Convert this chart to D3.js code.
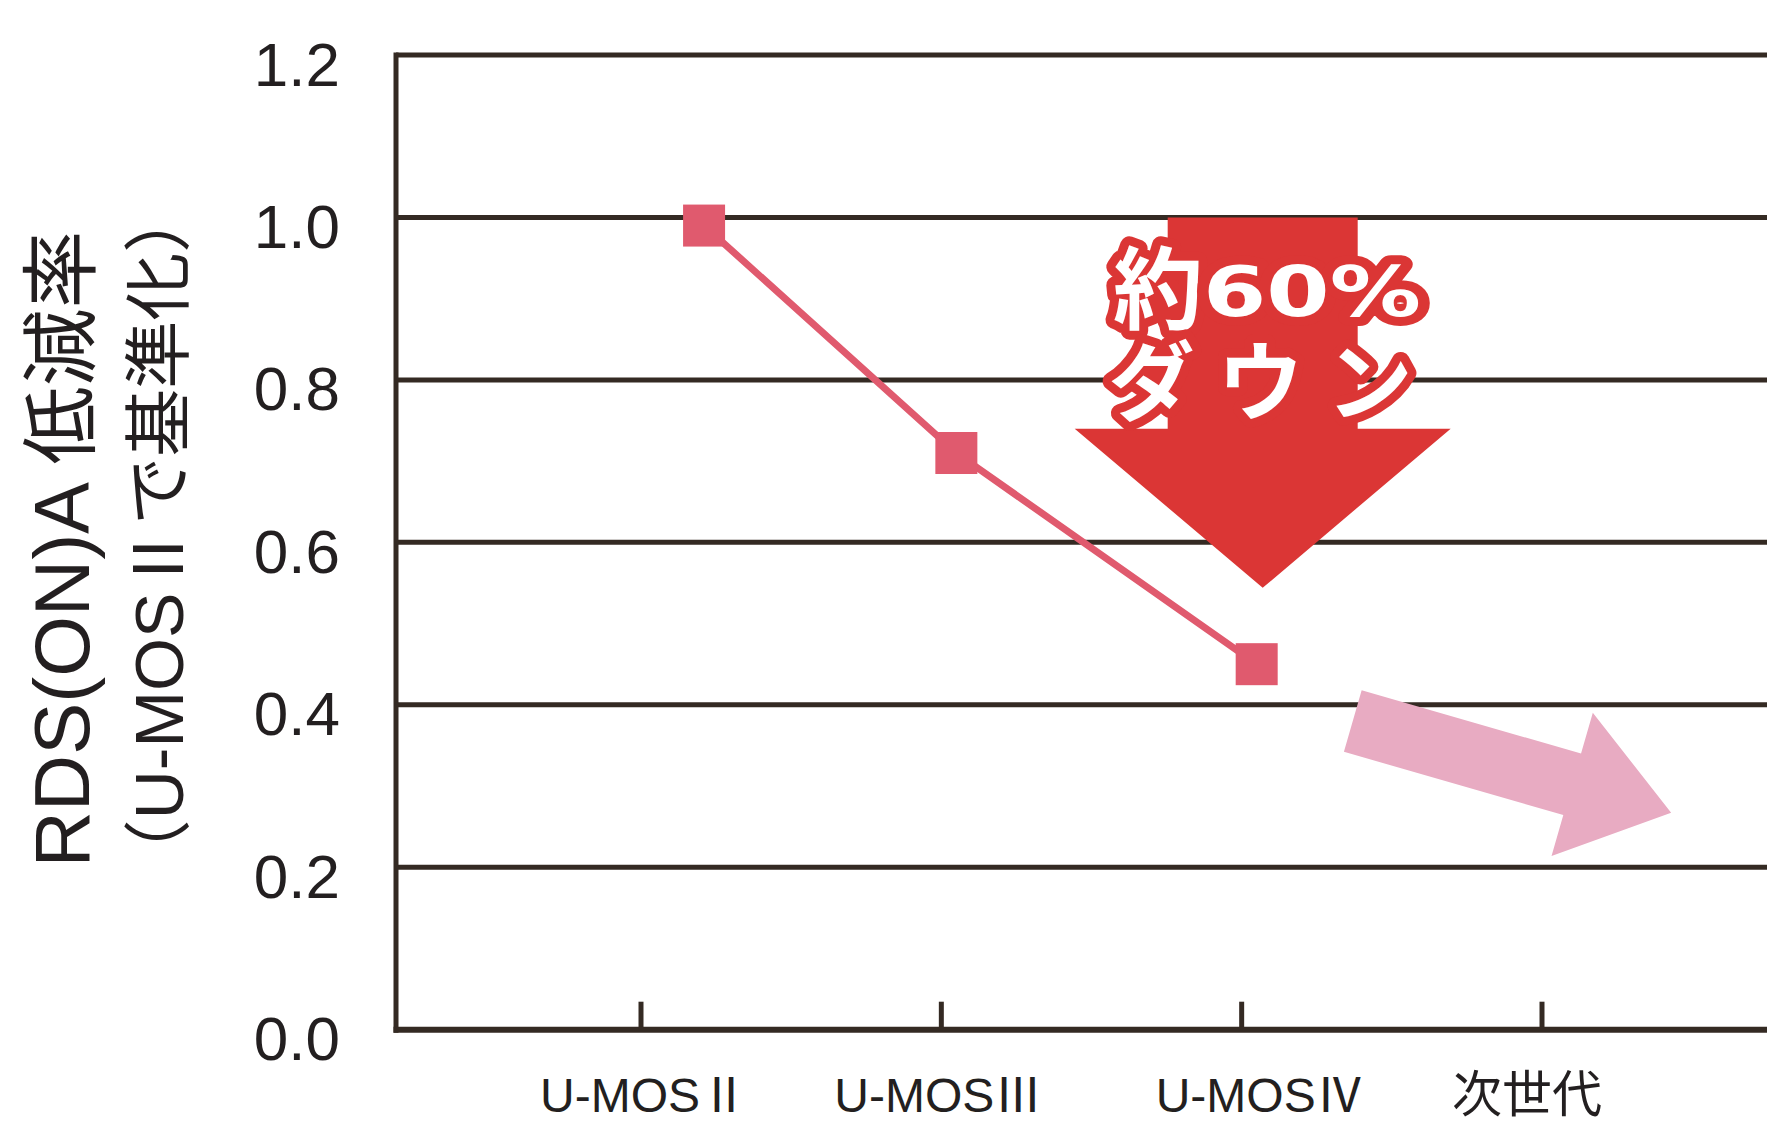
<!DOCTYPE html>
<html>
<head>
<meta charset="utf-8">
<script src="https://cdn.jsdelivr.net/npm/d3@7"></script>
<style>
  html, body { margin: 0; padding: 0; background: #ffffff; }
  svg { display: block; }
</style>
</head>
<body>
<svg id="chart" width="1767" height="1122"></svg>
<script>
// ---- data ----
const categories = ["U-MOSⅡ", "U-MOSⅢ", "U-MOSⅣ", "次世代"];
const seriesValues = [0.99, 0.71, 0.45];
// horizontal position of each plotted point, in category units (as drawn in the source)
const seriesCatPos = [0.21, 1.05, 2.05];
const yTicks = [0.0, 0.2, 0.4, 0.6, 0.8, 1.0, 1.2];
const yTitleLines = ["RDS(ON)A 低減率", "（U-MOSⅡで基準化）"];
const calloutWord = "約";
const calloutPercent = "60%";
const calloutLine2 = "ダウン";
// callout arrow: from value 1.0 down to ~0.54, centred at category position ~2.07
const downArrow = { cat: 2.07, from: 1.0, headBase: 0.74, to: 0.544 };
// trend arrow toward next generation (category position / value of tail and tip)
const trendArrow = { tailCat: 2.37, tailVal: 0.38, tipCat: 3.43, tipVal: 0.267 };

// ---- layout ----
const plotLeft = 396, plotRight = 1767;
const svg = d3.select("#chart");

const x = d3.scaleLinear().domain([0, 3]).range([641, 1542]);
const y = d3.scaleLinear().domain([0, 1.2]).range([1029.7, 55]);

const ink = "#342a23";
const txt = "#231f20";
const latinFont = "'Liberation Sans', Arial, 'Noto Sans CJK JP', sans-serif";
const cjkFont = "'Noto Sans CJK JP', 'Liberation Sans', sans-serif";
const labelNudge = [3, -3, 18, -15];

// gridlines (1.2 .. 0.2)
svg.append("g").selectAll("line")
  .data(yTicks.filter(d => d > 0))
  .join("line")
  .attr("x1", plotLeft).attr("x2", plotRight)
  .attr("y1", d => y(d)).attr("y2", d => y(d))
  .attr("stroke", ink).attr("stroke-width", 5);

// y axis labels
const yAxis = d3.axisLeft(y).tickValues(yTicks).tickSize(0).tickPadding(0)
  .tickFormat(d3.format(".1f"));
const gy = svg.append("g").attr("transform", `translate(${plotLeft - 56},0)`).call(yAxis);
gy.select(".domain").remove();
gy.selectAll("text")
  .attr("font-family", latinFont)
  .attr("font-size", 62)
  .attr("fill", txt)
  .attr("dy", 30)
  .attr("text-anchor", "end");

// left axis line
svg.append("line")
  .attr("x1", plotLeft).attr("x2", plotLeft)
  .attr("y1", y(1.2) - 2.5).attr("y2", y(0) + 3)
  .attr("stroke", ink).attr("stroke-width", 5);

// x ticks (upward)
svg.append("g").selectAll("line")
  .data(categories)
  .join("line")
  .attr("x1", (d, i) => x(i)).attr("x2", (d, i) => x(i))
  .attr("y1", y(0) - 28).attr("y2", y(0))
  .attr("stroke", ink).attr("stroke-width", 5);

// bottom axis line
svg.append("line")
  .attr("x1", plotLeft - 2.5).attr("x2", plotRight)
  .attr("y1", y(0)).attr("y2", y(0))
  .attr("stroke", ink).attr("stroke-width", 6);

// x labels
svg.append("g").selectAll("text")
  .data(categories)
  .join("text")
  .attr("x", (d, i) => x(i) + labelNudge[i])
  .attr("y", 1112)
  .attr("text-anchor", "middle")
  .attr("font-family", latinFont)
  .attr("font-size", (d, i) => i === 3 ? 50 : 48)
  .attr("fill", txt)
  .text(d => d);

// y title (rotated)
const titleX = [89, 183];
const titleY = [549, 536];
const titleSize = [78, 68];
yTitleLines.forEach((t, i) => {
  svg.append("text")
    .attr("transform", `translate(${titleX[i]},${titleY[i]}) rotate(-90)`)
    .attr("text-anchor", "middle")
    .attr("font-family", latinFont)
    .attr("font-size", titleSize[i])
    .attr("fill", txt)
    .text(t);
});

// red down arrow
{
  const cx = x(downArrow.cat);
  const top = y(downArrow.from), base = y(downArrow.headBase), tip = y(downArrow.to);
  const shaftHalf = 95, headHalf = 188;
  const pts = [
    [cx - shaftHalf, top], [cx + shaftHalf, top], [cx + shaftHalf, base],
    [cx + headHalf, base], [cx, tip], [cx - headHalf, base], [cx - shaftHalf, base]
  ];
  svg.append("path").attr("d", d3.line()(pts) + "Z").attr("fill", "#db3635");
}

// pink trend arrow
{
  const x0 = x(trendArrow.tailCat), y0 = y(trendArrow.tailVal);
  const x1 = x(trendArrow.tipCat), y1 = y(trendArrow.tipVal);
  const len = Math.hypot(x1 - x0, y1 - y0);
  const ang = Math.atan2(y1 - y0, x1 - x0) * 180 / Math.PI;
  const sh = 32, hh = 74.5, hb = len - 103;
  const pts = [[0, -sh], [hb, -sh], [hb, -hh], [len, 0], [hb, hh], [hb, sh], [0, sh]];
  svg.append("path")
    .attr("transform", `translate(${x0},${y0}) rotate(${ang})`)
    .attr("d", d3.line()(pts) + "Z")
    .attr("fill", "#e8abc2");
}

// data line + markers
const pts = seriesValues.map((v, i) => [x(seriesCatPos[i]), y(v)]);
svg.append("path")
  .attr("d", d3.line()(pts))
  .attr("fill", "none")
  .attr("stroke", "#e05a6e")
  .attr("stroke-width", 7);
const ms = 42;
svg.append("g").selectAll("rect")
  .data(seriesValues)
  .join("rect")
  .attr("x", (d, i) => x(seriesCatPos[i]) - ms / 2)
  .attr("y", d => y(d) - ms / 2)
  .attr("width", ms).attr("height", ms)
  .attr("fill", "#e05a6e");

// callout text (white with red outline) — one text element, two lines
const callout = svg.append("text")
  .attr("fill", "#ffffff")
  .attr("stroke", "#db3635")
  .attr("stroke-width", 18)
  .attr("stroke-linejoin", "round")
  .attr("paint-order", "stroke")
  .attr("font-weight", 700);
callout.append("tspan")
  .attr("x", 1113).attr("y", 322)
  .attr("font-family", cjkFont)
  .attr("font-size", 90)
  .text(calloutWord);
callout.append("tspan")
  .attr("y", 316)
  .attr("font-family", "'DejaVu Sans', sans-serif")
  .attr("font-size", 70)
  .attr("textLength", 218).attr("lengthAdjust", "spacingAndGlyphs")
  .text(calloutPercent);
callout.append("tspan")
  .attr("x", 1261 + 11).attr("y", 414)
  .attr("text-anchor", "middle")
  .attr("font-family", cjkFont)
  .attr("font-size", 86)
  .attr("letter-spacing", 23)
  .text(calloutLine2);
</script>
</body>
</html>
